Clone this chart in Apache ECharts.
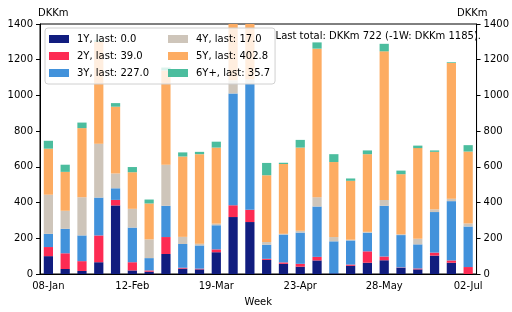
<!DOCTYPE html>
<html>
<head>
<meta charset="utf-8">
<script src="https://cdn.jsdelivr.net/npm/echarts@6/dist/echarts.min.js"></script>
<style>
  html, body { margin: 0; padding: 0; background: #fff; }
  #chart { width: 512px; height: 312px; }
</style>
</head>
<body>
<div id="chart"></div>
<script>
const weeks = ['08-Jan', '15-Jan', '22-Jan', '29-Jan', '05-Feb', '12-Feb', '19-Feb', '26-Feb', '05-Mar',
  '12-Mar', '19-Mar', '26-Mar', '02-Apr', '09-Apr', '16-Apr', '23-Apr', '30-Apr', '07-May', '14-May',
  '21-May', '28-May', '04-Jun', '11-Jun', '18-Jun', '25-Jun', '02-Jul'];

const y1 = [100, 28, 17, 66, 384, 20, 13, 112, 30, 26, 122, 319, 291, 79, 57, 41, 76, 4, 46, 63, 77, 35, 26, 103, 63, 0];
const y2 = [51, 88, 55, 150, 31, 46, 7, 95, 5, 4, 16, 66, 69, 6, 8, 16, 20, 0, 7, 64, 21, 2, 5, 17, 13, 39];
const y3 = [74, 137, 144, 212, 65, 194, 69, 175, 133, 130, 135, 626, 704, 79, 156, 175, 282, 179, 135, 104, 284, 181, 135, 227, 332, 227];
const y4 = [219, 101, 214, 302, 83, 105, 105, 230, 40, 10, 9, 74, 26, 15, 4, 10, 52, 24, 4, 5, 33, 5, 31, 15, 14, 17];
const y5 = [258, 218, 387, 570, 374, 205, 201, 528, 450, 501, 426, 450, 420, 374, 391, 466, 832, 420, 330, 435, 832, 336, 508, 322, 760, 402.8];
const y6 = [44, 40, 31, 11, 20, 29, 22, 16, 23, 13, 33, 30, 30, 69, 7, 43, 35, 44, 13, 21, 42, 20, 14, 8, 4, 35.7];

const seriesNames = ['1Y, last: 0.0', '2Y, last: 39.0', '3Y, last: 227.0', '4Y, last: 17.0', '5Y, last: 402.8', '6Y+, last: 35.7'];
const colors = ['#111d7f', '#fd2b53', '#4292db', '#cec5ba', '#fdac62', '#4bbd9e'];

const font = 'DejaVu Sans';
const chart = echarts.init(document.getElementById('chart'));

const yAxisBase = (pos) => ({
  type: 'value',
  position: pos,
  min: 0,
  max: 1400,
  interval: 200,
  name: 'DKKm',
  nameLocation: 'end',
  nameGap: 6,
  nameTextStyle: { color: '#000', fontFamily: font, fontSize: 10, align: pos === 'left' ? 'left' : 'right', padding: pos === 'left' ? [0, 0, 0, -2] : [0, -11, 0, 0] },
  axisLine: { show: true, lineStyle: { color: '#000', width: 1 } },
  axisTick: { show: true, length: 4, lineStyle: { color: '#000' } },
  axisLabel: { color: '#000', fontFamily: font, fontSize: 10, margin: 7, formatter: (v) => String(v) },
  splitLine: { show: false }
});

// first column gets a fixed text width so the second column starts where it does in the original
const legendData = seriesNames.map((n, i) => i < 3 ? { name: n, textStyle: { width: 86 } } : { name: n });

const option = {
  animation: false,
  color: colors,
  grid: { left: 40, right: 24, top: 24, bottom: 35, show: true, borderColor: '#000', borderWidth: 1 },
  legend: {
    orient: 'vertical',
    left: 45,
    top: 28,
    height: 48,
    padding: [5, 5, 5, 4],
    itemGap: 5,
    itemWidth: 20,
    itemHeight: 8,
    icon: 'rect',
    backgroundColor: 'rgba(255,255,255,0.8)',
    borderColor: '#d0d0d0',
    borderWidth: 1,
    borderRadius: 3,
    textStyle: { color: '#000', fontFamily: font, fontSize: 10, lineHeight: 12, padding: [0, 0, 0, 3] },
    data: legendData
  },
  graphic: [{
    type: 'text',
    right: 31,
    top: 31,
    z: 10,
    style: { text: 'Last total: DKKm 722 (-1W: DKKm 1185).', font: '10px "DejaVu Sans"', fill: '#000' }
  }],
  xAxis: {
    type: 'category',
    data: weeks,
    name: 'Week',
    nameLocation: 'middle',
    nameGap: 23,
    nameTextStyle: { color: '#000', fontFamily: font, fontSize: 10 },
    axisLine: { lineStyle: { color: '#000' } },
    axisTick: { interval: 4, alignWithLabel: true, length: 4, lineStyle: { color: '#000' } },
    axisLabel: { interval: 4, color: '#000', fontFamily: font, fontSize: 10, margin: 7 }
  },
  yAxis: [yAxisBase('left'), yAxisBase('right')],
  series: [y1, y2, y3, y4, y5, y6].map((d, i) => ({
    name: seriesNames[i],
    type: 'bar',
    stack: 'total',
    barWidth: '55%',
    clip: true,
    data: d
  }))
};

chart.setOption(option);
</script>
</body>
</html>
